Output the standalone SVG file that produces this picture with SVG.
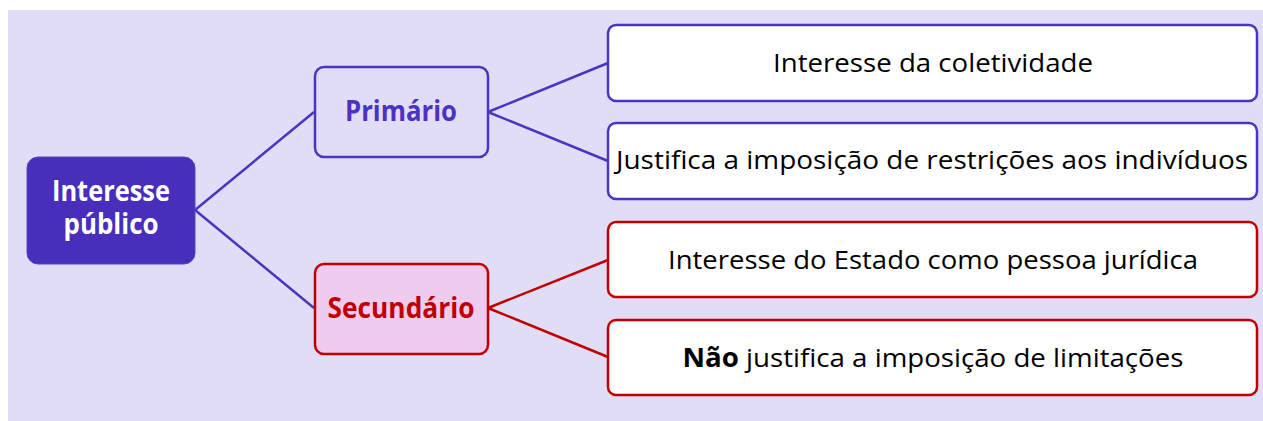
<svg xmlns="http://www.w3.org/2000/svg" width="1263" height="421" viewBox="0 0 1263 421">
<style>
.t{font-family:"Open Sans","Noto Sans","Liberation Sans",sans-serif;font-size:26px;fill:#000;text-anchor:middle}
.b{font-weight:bold}
.h{font-size:28px}
.bp{fill:#ffffff;stroke:#4B35C0;stroke-width:2.5}
.br{fill:#ffffff;stroke:#C00000;stroke-width:2.5}
.lp{stroke:#4B35C0;stroke-width:2.5;fill:none}
.lr{stroke:#C00000;stroke-width:2.5;fill:none}
</style>
<rect x="8" y="10" width="1255" height="411" fill="#E1DDF6"/>
<g id="connectors">
<line class="lp" x1="195" y1="210" x2="314" y2="112"/>
<line class="lp" x1="195" y1="210" x2="314" y2="308"/>
<line class="lp" x1="488" y1="112" x2="608" y2="63"/>
<line class="lp" x1="488" y1="112" x2="608" y2="161"/>
<line class="lr" x1="488" y1="308" x2="608" y2="260"/>
<line class="lr" x1="488" y1="308" x2="608" y2="357"/>
</g>
<g id="root">
<rect x="27" y="157" width="168" height="107" rx="11" fill="#482EBA" stroke="#5A44C4" stroke-width="1"/>
<text class="t b h" x="111" y="201" style="fill:#fff" textLength="118" lengthAdjust="spacingAndGlyphs">Interesse</text>
<text class="t b h" x="111" y="234" style="fill:#fff" textLength="95" lengthAdjust="spacingAndGlyphs">público</text>
</g>
<g id="primario">
<rect x="315" y="67" width="173" height="90" rx="9" fill="#E1DDF6" stroke="#4B35C0" stroke-width="2.5"/>
<text class="t b h" x="401" y="121" style="fill:#4B32C3" textLength="112" lengthAdjust="spacingAndGlyphs">Primário</text>
</g>
<g id="secundario">
<rect x="315" y="264" width="173" height="90" rx="9" fill="#F0CBF0" stroke="#C00000" stroke-width="2.5"/>
<text class="t b h" x="401" y="318" style="fill:#C00000" textLength="147" lengthAdjust="spacingAndGlyphs">Secundário</text>
</g>
<g id="coletividade">
<rect class="bp" x="608" y="25" width="649" height="76" rx="8"/>
<text class="t" x="933" y="72" textLength="320" lengthAdjust="spacingAndGlyphs">Interesse da coletividade</text>
</g>
<g id="restricoes">
<rect class="bp" x="608" y="123" width="649" height="76" rx="8"/>
<text class="t" x="932" y="169" textLength="632" lengthAdjust="spacingAndGlyphs">Justifica a imposição de restrições aos indivíduos</text>
</g>
<g id="estado">
<rect class="br" x="608" y="222" width="649" height="75" rx="8"/>
<text class="t" x="933" y="269" textLength="530" lengthAdjust="spacingAndGlyphs">Interesse do Estado como pessoa jurídica</text>
</g>
<g id="limitacoes">
<rect class="br" x="608" y="320" width="649" height="75" rx="8"/>
<text class="t" x="933" y="367" textLength="501" lengthAdjust="spacingAndGlyphs"><tspan class="b">Não</tspan> justifica a imposição de limitações</text>
</g>
</svg>
